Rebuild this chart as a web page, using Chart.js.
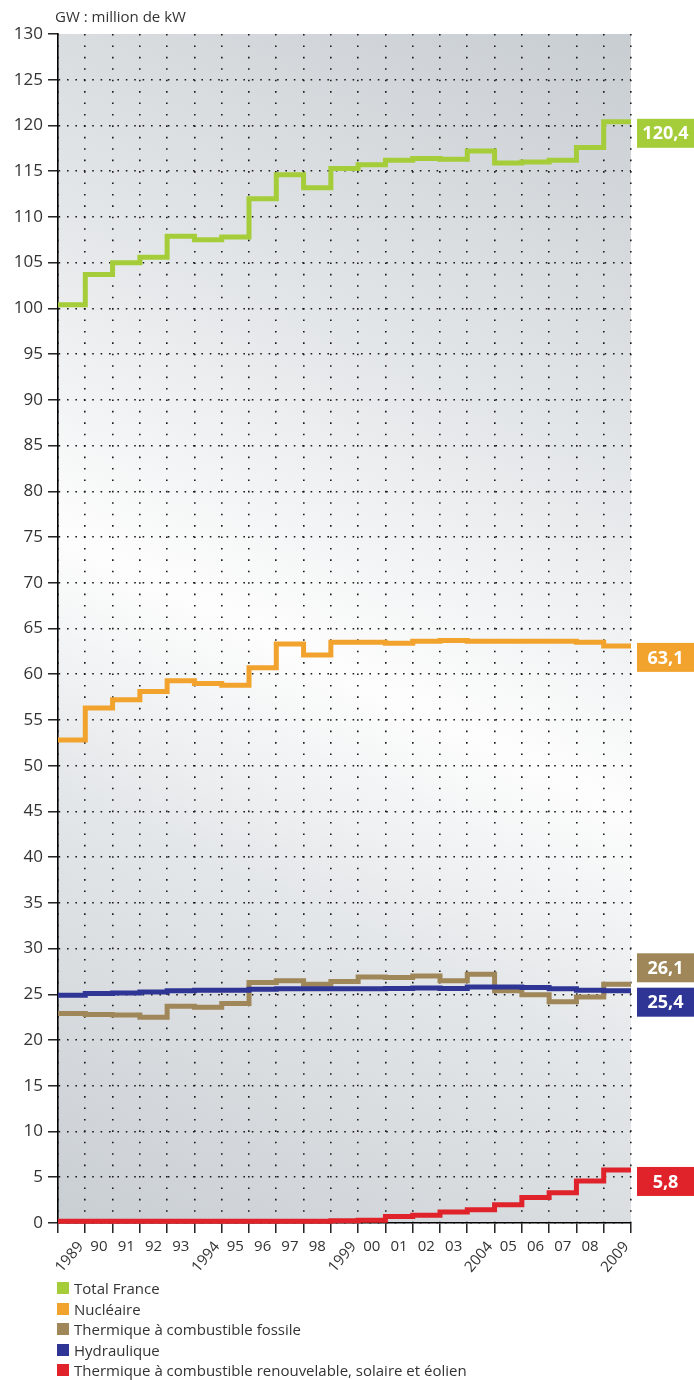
<!DOCTYPE html>
<html>
<head>
<meta charset="utf-8">
<script src="https://cdn.jsdelivr.net/npm/chart.js@4/dist/chart.umd.min.js"></script>
<style>
  html, body { margin: 0; padding: 0; background: #ffffff; }
  body { width: 694px; height: 1380px; position: relative; overflow: hidden; font-family: "Open Sans", sans-serif; color: #333; }
  #wrap { position: absolute; left: 0; top: 0; width: 694px; height: 1280px; }
  #title { position: absolute; left: 55px; top: 6px; font-size: 15px; line-height: 20px; color: #333; white-space: nowrap; }
  #legend { position: absolute; left: 57px; top: 1278px; font-size: 15px; line-height: 20.5px; color: #333; }
  #legend .row { display: flex; align-items: center; height: 20.5px; white-space: nowrap; }
  #legend .sw { width: 12px; height: 12px; margin-right: 5px; flex: none; }
</style>
</head>
<body>
<div id="wrap"><canvas id="c" width="694" height="1280"></canvas></div>
<div id="title">GW : million de kW</div>
<div id="legend"></div>
<script>
// ---- data ----
const years = ['1989','90','91','92','93','1994','95','96','97','98','1999','00','01','02','03','2004','05','06','07','08','2009'];
const totalFrance = [100.4, 103.7, 105.0, 105.6, 107.9, 107.5, 107.8, 112.0, 114.6, 113.2, 115.3, 115.7, 116.2, 116.4, 116.3, 117.2, 115.9, 116.0, 116.2, 117.6, 120.4];
const nucleaire   = [52.8, 56.3, 57.2, 58.1, 59.3, 59.0, 58.8, 60.7, 63.3, 62.1, 63.5, 63.5, 63.4, 63.6, 63.7, 63.6, 63.6, 63.6, 63.6, 63.5, 63.1];
const fossile     = [22.9, 22.8, 22.75, 22.5, 23.7, 23.6, 24.0, 26.3, 26.5, 26.1, 26.4, 26.9, 26.85, 27.0, 26.5, 27.2, 25.4, 24.95, 24.2, 24.7, 26.1];
const hydraulique = [24.9, 25.1, 25.15, 25.25, 25.4, 25.45, 25.45, 25.55, 25.6, 25.6, 25.6, 25.6, 25.65, 25.7, 25.65, 25.8, 25.8, 25.75, 25.6, 25.45, 25.4];
const renouvelable= [0.2, 0.2, 0.2, 0.2, 0.2, 0.2, 0.2, 0.2, 0.2, 0.2, 0.25, 0.3, 0.7, 0.85, 1.2, 1.45, 2.0, 2.8, 3.3, 4.6, 5.8];
const seriesLabels = ['Total France', 'Nucléaire', 'Thermique à combustible fossile', 'Hydraulique', 'Thermique à combustible renouvelable, solaire et éolien'];
const yTicks = { min: 0, max: 130, step: 5 };

// ---- helpers ----
function stepPoints(vals) {
  const pts = vals.map((v, i) => ({ x: i, y: v }));
  pts.push({ x: vals.length, y: vals[vals.length - 1] });
  return pts;
}
const colors = ['#a5cd39', '#f2a32e', '#9f8759', '#2f3595', '#e0232a'];
const seriesValues = [totalFrance, nucleaire, fossile, hydraulique, renouvelable];
const drawOrder = [4, 3, 2, 1, 0];
const boxAbove = [false, false, true, false, false];

const datasets = seriesValues.map((vals, i) => ({
  label: seriesLabels[i],
  data: stepPoints(vals),
  xAxisID: 'xl',
  yAxisID: 'y',
  borderColor: colors[i],
  backgroundColor: colors[i],
  borderWidth: 5,
  stepped: true,
  pointRadius: 0,
  borderJoinStyle: 'miter',
  borderCapStyle: 'butt',
  fill: false,
  clip: false,
  order: drawOrder[i],
  lastVals: vals,
  boxAbove: boxAbove[i]
}));

const bgPlugin = {
  id: 'bg',
  beforeDraw(chart) {
    const { ctx, chartArea: a } = chart;
    const g = ctx.createLinearGradient(a.left, a.bottom, a.right, a.top);
    g.addColorStop(0, '#c9ced3');
    g.addColorStop(0.3, '#e4e7e9');
    g.addColorStop(0.47, '#fdfdfd');
    g.addColorStop(0.7, '#e3e6e8');
    g.addColorStop(1, '#c8cdd2');
    ctx.save();
    ctx.fillStyle = g;
    ctx.fillRect(a.left, a.top, a.right - a.left, a.bottom - a.top);
    ctx.restore();
  }
};

const rotatedLabels = {
  id: 'rotLabels',
  afterDraw(chart) {
    const { ctx } = chart;
    const xs = chart.scales.x;
    const bottom = chart.chartArea.bottom;
    ctx.save();
    ctx.fillStyle = '#333';
    ctx.font = '15px "Open Sans", sans-serif';
    ctx.textAlign = 'right';
    ctx.textBaseline = 'middle';
    years.forEach((lab, i) => {
      if (lab.length !== 4) return;
      const x = xs.getPixelForValue(i) + 9;
      ctx.save();
      ctx.translate(x, bottom + 21);
      ctx.rotate(-50 * Math.PI / 180);
      ctx.fillText(lab, 0, 0);
      ctx.restore();
    });
    ctx.restore();
  }
};

const valueBoxes = {
  id: 'valueBoxes',
  afterDatasetsDraw(chart) {
    const { ctx } = chart;
    const left = chart.chartArea.right + 6;
    const w = 57, h = 29;
    chart.data.datasets.forEach((ds, i) => {
      const meta = chart.getDatasetMeta(i);
      const pt = meta.data[meta.data.length - 1];
      const v = ds.lastVals[ds.lastVals.length - 1];
      const top = ds.boxAbove ? pt.y - h - 2 : pt.y - 3;
      ctx.save();
      ctx.fillStyle = ds.borderColor;
      ctx.fillRect(left, top, w, h);
      ctx.fillStyle = '#ffffff';
      ctx.font = 'bold 18px "Open Sans", sans-serif';
      ctx.textAlign = 'center';
      ctx.textBaseline = 'middle';
      ctx.fillText(v.toFixed(1).replace('.', ','), left + w / 2, top + h / 2 + 1);
      ctx.restore();
    });
  }
};

const chart = new Chart(document.getElementById('c'), {
  type: 'line',
  data: { labels: years, datasets },
  options: {
    responsive: false,
    animation: false,
    devicePixelRatio: 1,
    layout: { padding: { top: 34, right: 63, left: 0, bottom: 0 } },
    plugins: { legend: { display: false }, tooltip: { enabled: false }, title: { display: false } },
    scales: {
      xl: { type: 'linear', min: 0, max: years.length, display: false },
      x: {
        type: 'category',
        position: 'bottom',
        offset: true,
        afterFit(s) { s.height = 57; },
        grid: {
          offset: true,
          color: '#1a1a1a',
          lineWidth: 1.6,
          tickColor: '#000',
          tickWidth: 1.3,
          tickLength: 10,
          drawOnChartArea: true
        },
        border: { display: true, color: '#000', width: 1.6, dash: [1.6, 9.82] },
        ticks: {
          autoSkip: false, maxRotation: 0, minRotation: 0, padding: 5,
          color: '#333',
          font: { family: '"Open Sans", sans-serif', size: 15 },
          callback(v, i) { const l = years[i]; return l.length === 4 ? '' : l; }
        }
      },
      y: {
        min: yTicks.min, max: yTicks.max,
        afterFit(s) { s.width = 58; },
        grid: {
          color: (c) => (c.tick && c.tick.value === yTicks.max) ? 'rgba(0,0,0,0)' : '#1a1a1a',
          lineWidth: 1.6,
          tickColor: '#000',
          tickWidth: 1.3,
          tickLength: 10
        },
        border: { display: true, color: '#000', width: 1.6, dash: [1.6, 6.8] },
        ticks: {
          stepSize: yTicks.step, padding: 5, color: '#333',
          font: { family: '"Open Sans", sans-serif', size: 17 }
        }
      }
    }
  },
  plugins: [bgPlugin, rotatedLabels, valueBoxes]
});

// HTML legend from the chart's datasets
const leg = document.getElementById('legend');
chart.data.datasets.forEach(ds => {
  const row = document.createElement('div');
  row.className = 'row';
  const sw = document.createElement('span');
  sw.className = 'sw';
  sw.style.background = ds.borderColor;
  const tx = document.createElement('span');
  tx.textContent = ds.label;
  row.appendChild(sw); row.appendChild(tx);
  leg.appendChild(row);
});
</script>
</body>
</html>
